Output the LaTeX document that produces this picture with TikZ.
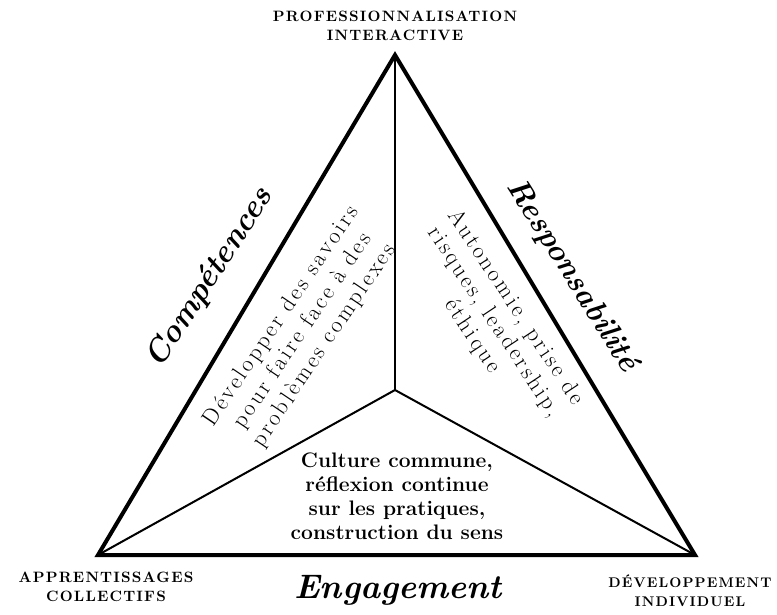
\documentclass[tikz,border=0pt]{standalone}
\usepackage{fontspec}
\newfontfamily\spacedfont{Latin Modern Roman}[LetterSpace=12]
\newfontfamily\spacedcaps{lmroman10-bold}[Extension=.otf, LetterSpace=8]
\usetikzlibrary{positioning}

\begin{document}
\begin{tikzpicture}[x=1pt, y=-1pt]
        \tikzset{
            corner label/.style={font=\spacedcaps\fontsize{15}{19}\selectfont, align=center, inner sep=0pt}, % the three poles
            side label/.style={font=\fontsize{31}{34}\selectfont\bfseries\itshape, inner sep=0pt}, % words along the sides
            inner text/.style={font=\spacedfont\fontsize{23}{26}\selectfont, align=center, inner sep=0pt}, % text inside the sectors
            outer edge/.style={line width=4pt, line join=miter},
            inner edge/.style={line width=2pt},
            }
        \useasboundingbox (0,0) rectangle (777,615);

        % corners
        \coordinate (top_corner) at (395,55);
        \coordinate (left_corner) at (98,555);
        \coordinate (right_corner) at (695,555);
        \coordinate (mid_point) at (395,390);

        % corner labels
        \node[corner label] (prof_label) at (395,26) {PROFESSIONNALISATION\\INTERACTIVE};
        \node[corner label] (appr_label) at (106,587) {APPRENTISSAGES\\COLLECTIFS};
        \node[corner label, font=\spacedcaps\fontsize{14}{19}\selectfont] (dev_label) at (690,591) {DÉVELOPPEMENT\\INDIVIDUEL};

        % side labels
        \node[side label, rotate=57, font=\fontsize{32}{34}\selectfont\bfseries\itshape] (comp_label) at (210,278) {Compétences};
        \node[side label, rotate=-58] (resp_label) at (572,276) {Responsabilité};
        \node[side label, font=\fontsize{34}{38}\selectfont\bfseries\itshape] (eng_label) at (398,590) {Engagement};

        % sector texts
        \node[inner text, rotate=56] (savoirs_text) at (303,331) {Développer des savoirs\\pour faire face à des\\problèmes complexes};
        \node[inner text, rotate=-56.5] (autonomie_text) at (494,322) {Autonomie, prise de\\risques, leadership,\\éthique};
        \node[inner text, font=\fontsize{21}{24}\selectfont\bfseries] (culture_text) at (397,496) {Culture commune,\\réflexion continue\\sur les pratiques,\\construction du sens};

        % triangle
        \draw[outer edge] (top_corner) -- (left_corner) -- (right_corner) -- cycle;
        \draw[inner edge] (top_corner) -- (mid_point);
        \draw[inner edge] (mid_point) -- (left_corner);
        \draw[inner edge] (mid_point) -- (right_corner);
\end{tikzpicture}
\end{document}
